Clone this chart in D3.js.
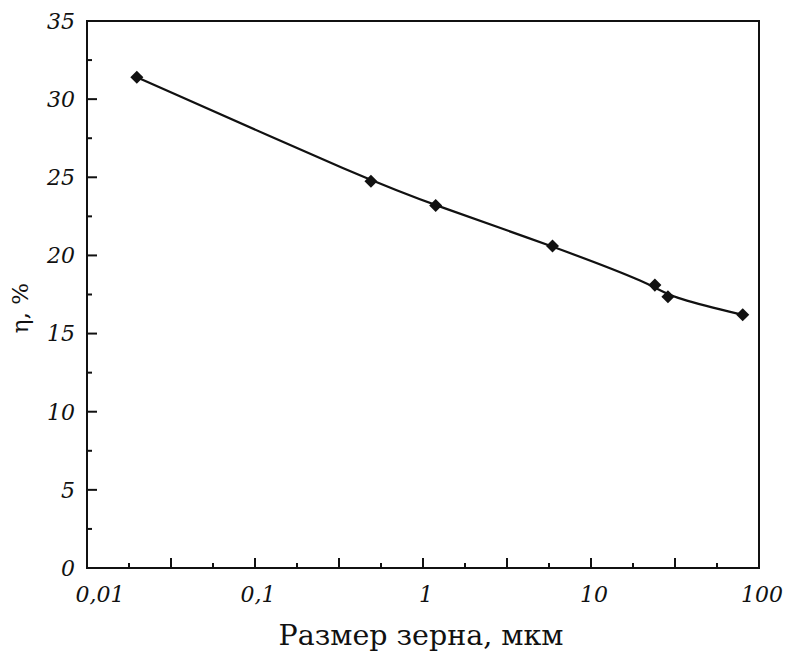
<!DOCTYPE html>
<html>
<head>
<meta charset="utf-8">
<script src="https://cdn.jsdelivr.net/npm/d3@7"></script>
<style>
  body { margin: 0; background: #fff; }
  svg { display: block; }
</style>
</head>
<body>
<div id="chart"></div>
<script>
// grain size (мкм) and efficiency η (%)
const grainSize = [0.0198, 0.49, 1.19, 5.9, 24.0, 28.7, 80];
const eta = [31.4, 24.75, 23.2, 20.6, 18.1, 17.35, 16.2];

const yTicks = [0, 5, 10, 15, 20, 25, 30, 35];
const yMinorTicks = [2.5, 7.5, 12.5, 17.5, 22.5, 27.5, 32.5];
const xTicks = [0.01, 0.1, 1, 10, 100];
const xTickLabels = ['0,01', '0,1', '1', '10', '100'];
// half-decade and quarter-decade marks
const xHalfTicks = [-1.5, -0.5, 0.5, 1.5].map(e => Math.pow(10, e));
const xQuarterTicks = [-1.75, -1.25, -0.75, -0.25, 0.25, 0.75, 1.25, 1.75].map(e => Math.pow(10, e));

const width = 790, height = 655;
const margin = { top: 21, right: 31, bottom: 87, left: 87 };
const innerW = width - margin.left - margin.right;
const innerH = height - margin.top - margin.bottom;

const svg = d3.select('#chart').append('svg')
    .attr('width', width)
    .attr('height', height);

const g = svg.append('g')
    .attr('transform', `translate(${margin.left},${margin.top})`);

const x = d3.scaleLog().domain([0.01, 100]).range([0, innerW]);
const y = d3.scaleLinear().domain([0, 35]).range([innerH, 0]);

const ink = '#111';
const serif = '"DejaVu Serif", serif';

// frame
g.append('rect')
    .attr('width', innerW)
    .attr('height', innerH)
    .attr('fill', 'none')
    .attr('stroke', ink)
    .attr('stroke-width', 2);

// y ticks (inward)
g.selectAll('.ytick')
    .data(yTicks.slice(1, -1))
    .enter().append('line')
    .attr('x1', 0).attr('x2', 10)
    .attr('y1', d => y(d)).attr('y2', d => y(d))
    .attr('stroke', ink).attr('stroke-width', 2);

g.selectAll('.yminor')
    .data(yMinorTicks)
    .enter().append('line')
    .attr('x1', 0).attr('x2', 5)
    .attr('y1', d => y(d)).attr('y2', d => y(d))
    .attr('stroke', ink).attr('stroke-width', 2);

g.selectAll('.ylabel')
    .data(yTicks)
    .enter().append('text')
    .attr('x', -12)
    .attr('y', d => y(d))
    .attr('dy', '0.36em')
    .attr('text-anchor', 'end')
    .attr('font-family', serif)
    .attr('font-style', 'italic')
    .attr('font-size', '22px')
    .attr('fill', ink)
    .text(d => d);

// x ticks (inward)
g.selectAll('.xtick')
    .data(xTicks.slice(1, -1).concat(xHalfTicks))
    .enter().append('line')
    .attr('x1', d => x(d)).attr('x2', d => x(d))
    .attr('y1', innerH).attr('y2', innerH - 10)
    .attr('stroke', ink).attr('stroke-width', 2);

g.selectAll('.xminor')
    .data(xQuarterTicks)
    .enter().append('line')
    .attr('x1', d => x(d)).attr('x2', d => x(d))
    .attr('y1', innerH).attr('y2', innerH - 5)
    .attr('stroke', ink).attr('stroke-width', 2);

g.selectAll('.xlabel')
    .data(xTicks)
    .enter().append('text')
    .attr('x', (d, i) => x(d) + (i === 0 ? 13 : 3))
    .attr('y', innerH + 34)
    .attr('text-anchor', 'middle')
    .attr('font-family', serif)
    .attr('font-style', 'italic')
    .attr('font-size', '22px')
    .attr('fill', ink)
    .text((d, i) => xTickLabels[i]);

// axis titles
svg.append('text')
    .attr('x', 421)
    .attr('y', 645)
    .attr('text-anchor', 'middle')
    .attr('font-family', serif)
    .attr('font-size', '28.5px')
    .attr('fill', ink)
    .text('Размер зерна, мкм');

svg.append('text')
    .attr('transform', 'translate(28,308) rotate(-90)')
    .attr('text-anchor', 'middle')
    .attr('font-family', serif)
    .attr('font-size', '23px')
    .attr('fill', ink)
    .text('η, %');

// curve + markers
const points = grainSize.map((d, i) => [d, eta[i]]);

const line = d3.line()
    .x(d => x(d[0]))
    .y(d => y(d[1]))
    .curve(d3.curveBasis);

g.append('path')
    .datum(points)
    .attr('d', line)
    .attr('fill', 'none')
    .attr('stroke', ink)
    .attr('stroke-width', 2.2);

g.selectAll('.marker')
    .data(points)
    .enter().append('path')
    .attr('d', d3.symbol().type(d3.symbolSquare).size(85))
    .attr('transform', d => `translate(${x(d[0])},${y(d[1])}) rotate(45)`)
    .attr('fill', ink);
</script>
</body>
</html>
